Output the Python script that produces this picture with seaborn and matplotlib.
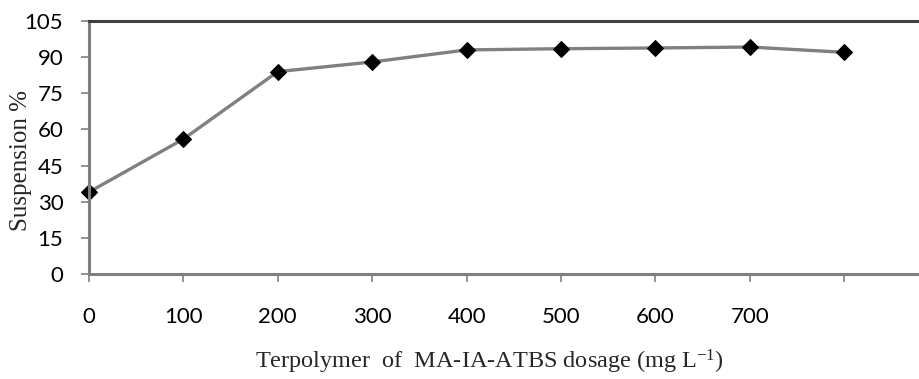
import matplotlib
matplotlib.use("Agg")
import matplotlib.pyplot as plt
import seaborn as sns
import pandas as pd

dosage = [0, 100, 200, 300, 400, 500, 600, 700, 800]
suspension = [34, 56, 84, 88, 93, 93.5, 93.8, 94.2, 92]
x_ticks = [0, 100, 200, 300, 400, 500, 600, 700, 800]
x_tick_labels = ["0", "100", "200", "300", "400", "500", "600", "700", ""]
y_ticks = [0, 15, 30, 45, 60, 75, 90, 105]

sns.set_style("white")
plt.rcParams["mathtext.fontset"] = "custom"
plt.rcParams["mathtext.rm"] = "Liberation Serif"
plt.rcParams["mathtext.it"] = "Liberation Serif:italic"
df = pd.DataFrame({"dosage": dosage, "suspension": suspension})

fig = plt.figure(figsize=(9.2, 3.79), dpi=100)
ax = fig.add_axes([89/920, 1 - 274/379, 1 - 89/920 + 0.01, 253/379])

sns.lineplot(data=df, x="dosage", y="suspension", ax=ax, color="#808080",
             linewidth=2.4, marker="D", markersize=8.5, markerfacecolor="black",
             markeredgecolor="black", clip_on=False)

ax.set_xlim(0, 890)
ax.set_ylim(0, 105)
ax.set_xticks(x_ticks)
ax.set_xticklabels(x_tick_labels)
ax.set_yticks(y_ticks)

tick_font = ["Lato", "DejaVu Sans"]
for lab in ax.get_xticklabels() + ax.get_yticklabels():
    lab.set_family(tick_font)
    lab.set_fontsize(16)
    lab.set_color("black")

ax.tick_params(axis="x", direction="out", length=6, width=1.2, color="#808080", pad=18, bottom=True)
ax.tick_params(axis="y", direction="out", length=6, width=1.2, color="#808080", pad=12.5, left=True)

for side in ["left", "bottom"]:
    ax.spines[side].set_color("#808080")
    ax.spines[side].set_linewidth(2.2)
ax.spines["top"].set_color("#404040")
ax.spines["top"].set_linewidth(2.2)
ax.spines["right"].set_visible(False)

ax.set_xlabel(r"Terpolymer  of  MA-IA-ATBS dosage (mg L$^{\mathrm{-1}}$)",
              fontfamily="Liberation Serif", fontsize=17.5, va="baseline")
ax.set_ylabel("Suspension %", fontfamily="Liberation Serif", fontsize=18)
ax.xaxis.set_label_coords(0.477, -0.372)
ax.yaxis.set_label_coords(-0.068, 0.45)

fig.savefig("out.png", dpi=100)
